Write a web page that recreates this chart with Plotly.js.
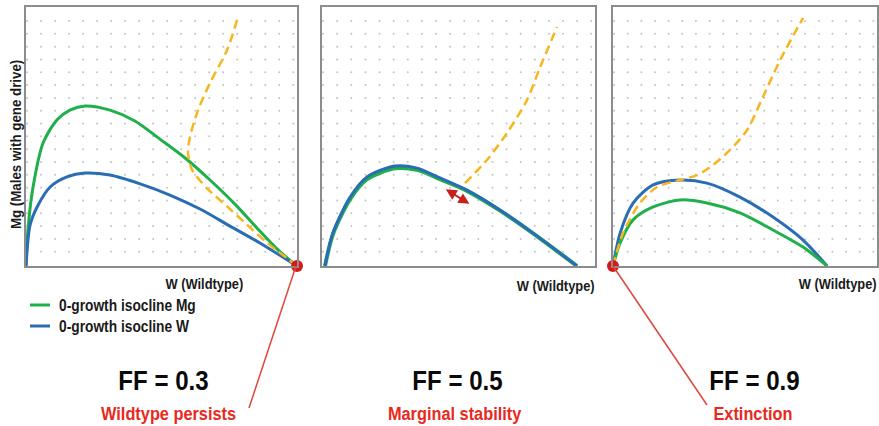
<!DOCTYPE html>
<html><head><meta charset="utf-8">
<script src="https://cdn.plot.ly/plotly-3.0.1.min.js"></script>
<style>html,body{margin:0;padding:0;background:#fff}#c{width:879px;height:426px}</style>
</head><body><div id="c"></div>
<script>
// ---- Data (normalized W, Mg per panel) ----
const p1_green_W = [0,0.007,0.026,0.063,0.114,0.162,0.218,0.310,0.402,0.494,0.587,0.679,0.771,0.852,0.930,1];
const p1_green_M = [0,0.139,0.305,0.475,0.564,0.602,0.618,0.602,0.560,0.490,0.417,0.332,0.239,0.147,0.062,0];
const p1_blue_W = [0,0.015,0.041,0.089,0.151,0.218,0.310,0.421,0.531,0.642,0.753,0.863,1];
const p1_blue_M = [0,0.158,0.228,0.305,0.344,0.359,0.351,0.317,0.274,0.220,0.154,0.089,0];
const p1_orange_W = [0.779,0.742,0.679,0.635,0.605,0.598,0.613,0.668,0.742,0.815,0.889,0.963,1];
const p1_orange_M = [0.950,0.834,0.707,0.602,0.498,0.436,0.371,0.300,0.230,0.160,0.090,0.030,0];

const p2_blue_W = [0.011,0.040,0.103,0.165,0.267,0.348,0.432,0.531,0.652,0.773,0.934];
const p2_blue_M = [0,0.127,0.266,0.344,0.386,0.378,0.340,0.293,0.216,0.127,0];
const p2_green_W = [0.011,0.040,0.103,0.165,0.267,0.348,0.432,0.531,0.652,0.773,0.934];
const p2_green_M = [0,0.122,0.258,0.335,0.377,0.371,0.335,0.290,0.214,0.126,0];
const p2_orange_W = [0.524,0.604,0.678,0.751,0.799,0.861];
const p2_orange_M = [0.320,0.409,0.514,0.641,0.768,0.923];

const p3_blue_W = [0,0.027,0.076,0.152,0.254,0.356,0.481,0.606,0.720,0.811];
const p3_blue_M = [0,0.127,0.243,0.313,0.332,0.320,0.266,0.189,0.100,0];
const p3_green_W = [0,0.027,0.076,0.152,0.254,0.356,0.481,0.606,0.720,0.811];
const p3_green_M = [0,0.089,0.178,0.228,0.255,0.243,0.205,0.139,0.073,0];
const p3_orange_W = [0,0.038,0.102,0.167,0.254,0.318,0.379,0.443,0.508,0.568,0.633,0.720];
const p3_orange_M = [0,0.127,0.243,0.305,0.332,0.351,0.390,0.448,0.525,0.653,0.795,0.958];

const eqW = [1, 0];     // red equilibrium points (panel 1, panel 3)
const eqM = [0, 0];

const ffLabels = ["FF = 0.3","FF = 0.5","FF = 0.9"];
const outcomeLabels = ["Wildtype persists","Marginal stability","Extinction"];
const legendLabels = ["0-growth isocline Mg","0-growth isocline W"];
const xLabel = "W (Wildtype)";
const yLabel = "Mg (Males with gene drive)";

// ---- layout helpers ----
const W=879,H=426;
const px = v=>v/W, py = v=>1-v/H;
const panels = [[26,297],[322,595],[613,877]];
const yTop=7, yBot=266;

const GREEN='#1fb04b', BLUE='#2a6db5', ORANGE='#f7b51e', RED='#d4191a';
const FONT='"Liberation Sans",Arial,sans-serif';
const NARROW=0.86;

// grid of field dots (background marks)
const gx=[],gy=[];
for(let i=0;i<20;i++)for(let j=0;j<19;j++){gx.push(0.004+0.0517*i);gy.push(0.055+0.0495*j);}

const traces=[];
const ax=['','2','3'];
const sets=[
  [[p1_green_W,p1_green_M],[p1_blue_W,p1_blue_M],[p1_orange_W,p1_orange_M]],
  [[p2_green_W,p2_green_M],[p2_blue_W,p2_blue_M],[p2_orange_W,p2_orange_M]],
  [[p3_green_W,p3_green_M],[p3_blue_W,p3_blue_M],[p3_orange_W,p3_orange_M]]
];
sets.forEach((s,k)=>{
  const xa='x'+ax[k], ya='y'+ax[k];
  traces.push({x:gx,y:gy,xaxis:xa,yaxis:ya,mode:'markers',type:'scatter',marker:{size:2,color:'#c2c2c2'},hoverinfo:'skip',showlegend:false});
  if(k===1){
    traces.push({x:s[0][0],y:s[0][1],xaxis:xa,yaxis:ya,mode:'lines',line:{color:GREEN,width:4,shape:'spline',smoothing:0.8},showlegend:false});
    traces.push({x:s[1][0],y:s[1][1],xaxis:xa,yaxis:ya,mode:'lines',line:{color:BLUE,width:3,shape:'spline',smoothing:0.8},showlegend:false});
  } else {
    const order = k===2?[1,0]:[0,1];
    const cols=[GREEN,BLUE];
    order.forEach(o=>traces.push({x:s[o][0],y:s[o][1],xaxis:xa,yaxis:ya,mode:'lines',line:{color:cols[o],width:3,shape:'spline',smoothing:0.8},showlegend:false}));
  }
  traces.push({x:s[2][0],y:s[2][1],xaxis:xa,yaxis:ya,mode:'lines',line:{color:ORANGE,width:2.5,dash:'9px,5px',shape:'spline',smoothing:0.8},showlegend:false});
});
// equilibrium dots
traces.push({x:[eqW[0]],y:[eqM[0]],xaxis:'x',yaxis:'y',mode:'markers',marker:{size:12,color:RED},cliponaxis:false,showlegend:false});
traces.push({x:[eqW[1]],y:[eqM[1]],xaxis:'x3',yaxis:'y3',mode:'markers',marker:{size:12,color:RED},cliponaxis:false,showlegend:false});

const layout={width:W,height:H,margin:{l:0,r:0,t:0,b:0},paper_bgcolor:'#fff',plot_bgcolor:'#fff',showlegend:false,
  annotations:[],shapes:[]};
panels.forEach((p,k)=>{
  const axc={domain:[px(p[0]),px(p[1])],range:[0,1],showticklabels:false,ticks:'',showgrid:false,zeroline:false,
    showline:true,mirror:true,linecolor:'#8c8c8c',linewidth:2,fixedrange:true};
  layout['xaxis'+ax[k]]=Object.assign({},axc,{anchor:'y'+ax[k]});
  layout['yaxis'+ax[k]]=Object.assign({},axc,{domain:[py(yBot),py(yTop)],anchor:'x'+ax[k]});
});
function ann(t,x,y,s,c,extra){return Object.assign({text:t,x:px(x),y:py(y),xref:'paper',yref:'paper',showarrow:false,
  xanchor:'center',yanchor:'middle',font:{family:FONT,size:s,color:c,weight:'bold'}},extra||{});}
const A=layout.annotations;
A.push(ann(xLabel,204,283,15,'#1a1a1a'));
A.push(ann(xLabel,597,285,15,'#1a1a1a',{xanchor:'right'}));
A.push(ann(xLabel,879,283,15,'#1a1a1a',{xanchor:'right'}));
A.push(ann(yLabel,15,145,15.5,'#1a1a1a',{textangle:-90}));
A.push(ann(ffLabels[0],163,380,28,'#0a0a0a'));
A.push(ann(ffLabels[1],457,380,28,'#0a0a0a'));
A.push(ann(ffLabels[2],754,380,28,'#0a0a0a'));
A.push(ann(outcomeLabels[0],168,413,19,'#e8291c'));
A.push(ann(outcomeLabels[1],455,413,19,'#e8291c'));
A.push(ann(outcomeLabels[2],753,413,19,'#e8291c'));
A.push(ann(legendLabels[0],57,305,16,'#1a1a1a',{xanchor:'left'}));
A.push(ann(legendLabels[1],57,326,16,'#1a1a1a',{xanchor:'left'}));
// double arrow in panel 2
A.push({x:0.540,y:0.240,ax:0.448,ay:0.300,xref:'x2',yref:'y2',axref:'x2',ayref:'y2',showarrow:true,text:'',
  arrowhead:2,startarrowhead:2,arrowside:'end+start',arrowsize:1.1,startarrowsize:1.1,arrowwidth:2,arrowcolor:'#c8201e'});
const S=layout.shapes;
S.push({type:'line',xref:'paper',yref:'paper',x0:px(30),x1:px(50),y0:py(305),y1:py(305),line:{color:GREEN,width:3}});
S.push({type:'line',xref:'paper',yref:'paper',x0:px(30),x1:px(50),y0:py(326),y1:py(326),line:{color:BLUE,width:3}});
S.push({type:'line',xref:'paper',yref:'paper',x0:px(296),y0:py(266),x1:px(249),y1:py(408),line:{color:'#e0463a',width:1.5}});
S.push({type:'line',xref:'paper',yref:'paper',x0:px(613),y0:py(266),x1:px(707),y1:py(405),line:{color:'#e0463a',width:1.5}});

Plotly.newPlot('c',traces,layout,{displayModeBar:false,staticPlot:true}).then(gd=>{
  // emulate a narrow (condensed) bold face by compressing text horizontally
  gd.querySelectorAll('g.annotation').forEach(g=>{
    const idx=+g.getAttribute('data-index');
    const a=layout.annotations[idx];
    const t=g.querySelector('.annotation-text');
    if(!a||!t||!t.textContent) return;
    const b=t.getBBox();
    let cx=b.x+b.width/2;
    if(a.xanchor==='left') cx=b.x;
    if(a.xanchor==='right') cx=b.x+b.width;
    t.setAttribute('transform',`translate(${cx},0) scale(${NARROW},1) translate(${-cx},0)`);
  });
});
</script></body></html>
